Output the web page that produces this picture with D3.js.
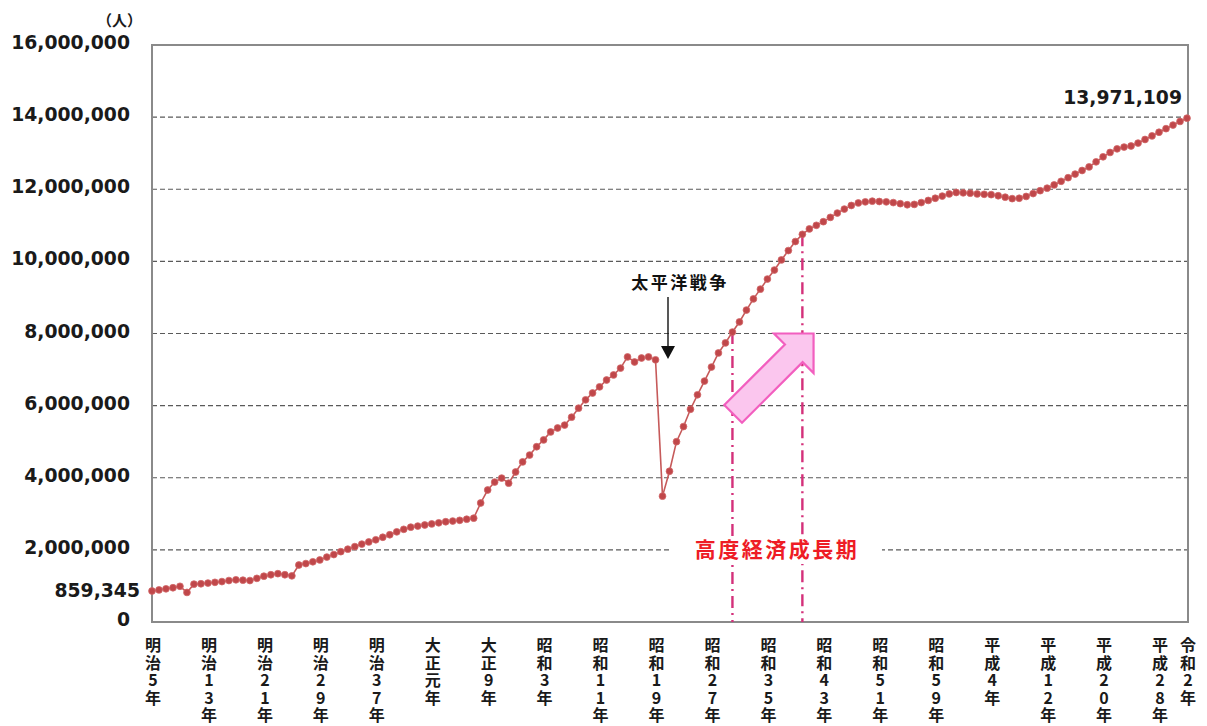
<!DOCTYPE html>
<html lang="ja">
<head>
<meta charset="utf-8">
<script src="https://cdn.jsdelivr.net/npm/d3@7"></script>
<style>
  html, body { margin: 0; padding: 0; background: #ffffff; }
  svg { display: block; }
  .vlabel { writing-mode: vertical-rl; text-orientation: upright; }
</style>
</head>
<body>
<svg id="chart" width="1207" height="726"></svg>
<script>
// 東京都の人口推移（各年、人）
const startYear = 1872;

// 明治5年〜明治44年
const meijiPop = [
  859345, 890000, 920000, 950000, 990000, 820000, 1050000, 1060000, 1080000, 1100000,
  1120000, 1150000, 1170000, 1160000, 1150000, 1210000, 1270000, 1310000, 1340000, 1310000,
  1280000, 1580000, 1620000, 1670000, 1720000, 1800000, 1870000, 1950000, 2020000, 2090000,
  2160000, 2220000, 2280000, 2350000, 2420000, 2500000, 2570000, 2630000, 2660000, 2690000
];
// 大正元年〜大正14年
const taishoPop = [
  2720000, 2750000, 2780000, 2800000, 2820000, 2850000, 2880000, 3300000, 3660000, 3880000,
  3990000, 3850000, 4160000, 4440000
];
// 昭和元年〜昭和63年
const showaPop = [
  4630000, 4860000, 5050000, 5270000, 5380000, 5460000, 5680000, 5930000, 6160000, 6350000,
  6520000, 6710000, 6850000, 7040000, 7350000, 7210000, 7320000, 7350000, 7270000, 3490000,
  4180000, 5000000, 5420000, 5900000, 6300000, 6680000, 7070000, 7460000, 7740000, 8040000,
  8320000, 8650000, 8960000, 9230000, 9510000, 9760000, 10040000, 10300000, 10550000, 10750000,
  10900000, 11000000, 11100000, 11220000, 11340000, 11450000, 11550000, 11620000, 11650000, 11670000,
  11660000, 11650000, 11630000, 11600000, 11570000, 11580000, 11630000, 11690000, 11750000, 11810000,
  11870000, 11910000, 11900000
];
// 平成元年〜平成30年
const heiseiPop = [
  11890000, 11870000, 11860000, 11850000, 11820000, 11780000, 11740000, 11750000, 11800000, 11880000,
  11960000, 12030000, 12120000, 12220000, 12320000, 12420000, 12520000, 12620000, 12760000, 12900000,
  13020000, 13120000, 13170000, 13200000, 13280000, 13380000, 13480000, 13580000, 13680000, 13780000
];
// 令和元年〜令和2年
const reiwaPop = [13880000, 13971109];

const population = [...meijiPop, ...taishoPop, ...showaPop, ...heiseiPop, ...reiwaPop];
const series = population.map((v, i) => ({ year: startYear + i, value: v }));

// 横軸の目盛（8年おき＋最終年）
const tickYears  = [1872, 1880, 1888, 1896, 1904, 1912, 1920, 1928, 1936, 1944,
                    1952, 1960, 1968, 1976, 1984, 1992, 2000, 2008, 2016, 2020];
const tickLabels = ["明治5年", "明治13年", "明治21年", "明治29年", "明治37年", "大正元年", "大正9年",
                    "昭和3年", "昭和11年", "昭和19年", "昭和27年", "昭和35年", "昭和43年", "昭和51年",
                    "昭和59年", "平成4年", "平成12年", "平成20年", "平成28年", "令和2年"];
const yTicks = [0, 2000000, 4000000, 6000000, 8000000, 10000000, 12000000, 14000000, 16000000];

// 高度経済成長期（昭和30年〜昭和40年）
const boomYears = [1955, 1965];

const svg = d3.select("#chart");
const x = d3.scaleLinear().domain([1872, 2020]).range([152, 1187]);
const y = d3.scaleLinear().domain([0, 16000000]).range([622, 45]);
const fmt = d3.format(",");
const numFont = "'DejaVu Sans', Verdana, sans-serif";
const jpFont = "'Noto Sans CJK JP', 'Noto Sans', sans-serif";

// 横の補助線
svg.append("g")
  .selectAll("line")
  .data(yTicks.filter(d => d > 0 && d < 16000000))
  .join("line")
  .attr("x1", x(1872)).attr("x2", x(2020) + 1)
  .attr("y1", d => y(d)).attr("y2", d => y(d))
  .attr("stroke", "#5a5a5a")
  .attr("stroke-width", 1.1)
  .attr("stroke-dasharray", "5,3");

// プロット枠
svg.append("rect")
  .attr("x", x(1872)).attr("y", y(16000000))
  .attr("width", x(2020) + 1 - x(1872))
  .attr("height", y(0) - y(16000000))
  .attr("fill", "none")
  .attr("stroke", "#8a8a8a")
  .attr("stroke-width", 2);

// 縦軸ラベル
svg.append("g")
  .selectAll("text")
  .data(yTicks)
  .join("text")
  .attr("x", 130)
  .attr("y", d => y(d) + 4)
  .attr("text-anchor", "end")
  .attr("font-family", numFont)
  .attr("font-weight", "bold")
  .attr("font-size", 18.8)
  .attr("fill", "#1a1a1a")
  .text(d => fmt(d));

svg.append("text")
  .attr("x", 142).attr("y", 26)
  .attr("text-anchor", "end")
  .attr("font-family", jpFont)
  .attr("font-weight", "bold")
  .attr("font-size", 15)
  .attr("fill", "#1a1a1a")
  .text("（人）");

// 横軸ラベル（縦書き）
svg.append("g")
  .selectAll("text")
  .data(tickYears.map((yr, i) => ({ yr, label: tickLabels[i] })))
  .join("text")
  .attr("class", "vlabel")
  .attr("x", d => x(d.yr) + 1)
  .attr("y", 637)
  .attr("font-family", jpFont)
  .attr("font-weight", "bold")
  .attr("font-size", 16)
  .attr("letter-spacing", 1.5)
  .attr("fill", "#1a1a1a")
  .text(d => d.label);

// 高度経済成長期の区切り線
svg.append("g")
  .selectAll("line")
  .data(boomYears)
  .join("line")
  .attr("x1", d => x(d)).attr("x2", d => x(d))
  .attr("y1", d => y(series.find(s => s.year === d).value))
  .attr("y2", y(0))
  .attr("stroke", "#d4307a")
  .attr("stroke-width", 2.4)
  .attr("stroke-dasharray", "12,5,2,5");

// 高度経済成長期ラベル
const boomLabel = svg.append("g");
boomLabel.append("rect")
  .attr("x", 672).attr("y", 536).attr("width", 210).attr("height", 28)
  .attr("fill", "#ffffff");
boomLabel.append("text")
  .attr("x", 777).attr("y", 557)
  .attr("text-anchor", "middle")
  .attr("font-family", jpFont)
  .attr("font-weight", "bold")
  .attr("font-size", 21)
  .attr("letter-spacing", 2.5)
  .attr("fill", "#ee1c25")
  .text("高度経済成長期");

// 成長を示す矢印
const tail = [x(1955.1), y(5770000)];
const tip = [x(1966.6), y(8000000)];
(function drawBlockArrow() {
  const dx = tip[0] - tail[0], dy = tip[1] - tail[1];
  const len = Math.hypot(dx, dy);
  const ux = dx / len, uy = dy / len;
  const px = -uy, py = ux;
  const shaftHalf = 12.5, headHalf = 28, headLen = 28;
  const bx = tip[0] - ux * headLen, by = tip[1] - uy * headLen;
  const pts = [
    [tail[0] + px * shaftHalf, tail[1] + py * shaftHalf],
    [bx + px * shaftHalf, by + py * shaftHalf],
    [bx + px * headHalf, by + py * headHalf],
    tip,
    [bx - px * headHalf, by - py * headHalf],
    [bx - px * shaftHalf, by - py * shaftHalf],
    [tail[0] - px * shaftHalf, tail[1] - py * shaftHalf]
  ];
  svg.append("path")
    .attr("d", d3.line()(pts) + "Z")
    .attr("fill", "#fbc6ee")
    .attr("stroke", "#f25fbf")
    .attr("stroke-width", 2.2)
    .attr("stroke-linejoin", "miter");
})();

// 人口の折れ線
svg.append("path")
  .datum(series)
  .attr("d", d3.line().x(d => x(d.year)).y(d => y(d.value)))
  .attr("fill", "none")
  .attr("stroke", "#c65a5a")
  .attr("stroke-width", 1.6);

svg.append("g")
  .selectAll("circle")
  .data(series)
  .join("circle")
  .attr("cx", d => x(d.year))
  .attr("cy", d => y(d.value))
  .attr("r", 3.4)
  .attr("fill", "#c0474a")
  .attr("stroke", "#d2686a")
  .attr("stroke-width", 0.8);

// 始点と終点の値
const first = series[0], last = series[series.length - 1];
svg.append("text")
  .attr("x", 140).attr("y", y(first.value) + 6)
  .attr("text-anchor", "end")
  .attr("font-family", numFont)
  .attr("font-weight", "bold")
  .attr("font-size", 18.8)
  .attr("fill", "#1a1a1a")
  .text(fmt(first.value));
svg.append("text")
  .attr("x", 1182).attr("y", 104)
  .attr("text-anchor", "end")
  .attr("font-family", numFont)
  .attr("font-weight", "bold")
  .attr("font-size", 18.8)
  .attr("fill", "#1a1a1a")
  .text(fmt(last.value));

// 太平洋戦争の注記
svg.append("text")
  .attr("x", 680).attr("y", 289)
  .attr("text-anchor", "middle")
  .attr("font-family", jpFont)
  .attr("font-weight", "bold")
  .attr("font-size", 17)
  .attr("letter-spacing", 2.5)
  .attr("fill", "#111")
  .text("太平洋戦争");
svg.append("line")
  .attr("x1", 668).attr("x2", 668)
  .attr("y1", 297).attr("y2", 348)
  .attr("stroke", "#111").attr("stroke-width", 1.4);
svg.append("path")
  .attr("d", "M661,346 L675,346 L668,359 Z")
  .attr("fill", "#111");
</script>
</body>
</html>
